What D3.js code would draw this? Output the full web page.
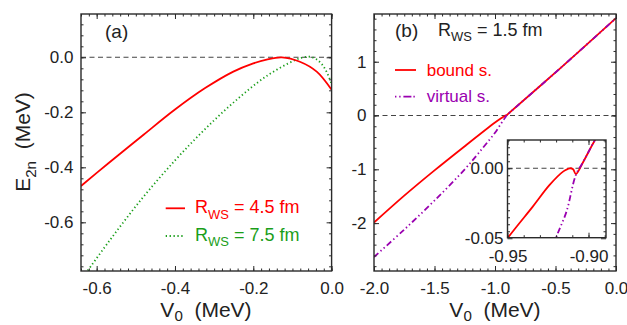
<!DOCTYPE html>
<html lang="en">
<head>
    <meta charset="UTF-8">
    <title>E2n vs V0</title>
    <script src="https://d3js.org/d3.v7.min.js"></script>
    <style>
        body { margin: 0; background: #fff; }
        text { font-family: "Liberation Sans", Arial, sans-serif; fill: #222; white-space: pre; }
        .frame { fill: none; stroke: #2a2a2a; stroke-width: 1.4px; }
        .tick line { stroke: #2a2a2a; stroke-width: 1px; }
        .zero-line { stroke: #444; stroke-width: 1.1px; stroke-dasharray: 5, 3.5; }
    </style>
</head>
<body>
    <div id="chart"></div>

    <script>
        // panel (a): R_WS = 4.5 fm and 7.5 fm
        const aV0Red = [-0.64, -0.57, -0.485, -0.40, -0.323, -0.251, -0.20, -0.166, -0.127, -0.081, -0.038, 0];
        const aE45 = [-0.468, -0.385, -0.287, -0.19, -0.112, -0.052, -0.022, -0.008, 0, -0.016, -0.052, -0.118];
        const aV0Green = [-0.64, -0.57, -0.485, -0.40, -0.328, -0.251, -0.166, -0.093, -0.072, -0.055, -0.04, -0.025, -0.012, 0];
        const aE75 = [-0.81, -0.672, -0.515, -0.375, -0.268, -0.165, -0.068, -0.01, 0, 0.002, -0.006, -0.025, -0.055, -0.097];

        // panel (b): R_WS = 1.5 fm, bound and virtual states
        const bV0Bound = [-2, -1.75, -1.5, -1.25, -1.0, -0.95, -0.9344, -0.924, -0.9157, -0.9115, -0.9095, -0.9078, -0.9032, -0.896, -0.45, 0];
        const bBound = [-1.99, -1.49, -1.02, -0.57, -0.13, -0.05, -0.0274, -0.0119, -0.0024, 0, -0.0007, -0.0041, 0.0047, 0.0202, 0.9, 1.81];
        const bV0Virt = [-2, -1.75, -1.5, -1.25, -1.1, -1.0, -0.95, -0.93, -0.9198, -0.9136, -0.9078, -0.9032, -0.896, -0.45, 0];
        const bVirtual = [-2.63, -2.12, -1.58, -1.0, -0.6, -0.32, -0.15, -0.085, -0.049, -0.031, -0.0048, 0.0047, 0.0202, 0.9, 1.81];

        // tick labels
        const aXTicks = [-0.6, -0.4, -0.2, 0.0];
        const aYTicks = [0.0, -0.2, -0.4, -0.6];
        const bXTicks = [-2.0, -1.5, -1.0, -0.5, 0.0];
        const bYTicks = [1, 0, -1, -2];
        const inXTicks = [-0.95, -0.90];
        const inYTicks = [0.00, -0.05];

        const red = "#ff0000", green = "#1a9e1a", purple = "#9a00b0";
        const font = 17;
        const dotDash = "1.3,2.6";
        const virtDash = "6,2.8,1.4,2.8,1.4,2.8";

        const svg = d3.select("#chart")
          .append("svg")
            .attr("width", 627)
            .attr("height", 325);

        let clipN = 0;

        // box with inward ticks on all four sides
        function frame(g, x, y, o) {
            const [x0, x1] = x.range();
            const [y0, y1] = y.range();
            const sides = [
                [d3.axisBottom, `translate(0,${y0})`, x, o.xMajor, o.xMinor, o.xFmt, o.xPad],
                [d3.axisTop, `translate(0,${y1})`, x, o.xMajor, o.xMinor, null, 0],
                [d3.axisLeft, `translate(${x0},0)`, y, o.yMajor, o.yMinor, o.yFmt, o.yPad],
                [d3.axisRight, `translate(${x1},0)`, y, o.yMajor, o.yMinor, null, 0]
            ];
            sides.forEach(([ax, tr, sc, major, minor, fmt, pad]) => {
                const gm = g.append("g").attr("transform", tr)
                    .call(ax(sc).tickValues(minor).tickSize(-2.5).tickFormat(""));
                gm.select(".domain").remove();
                const gM = g.append("g").attr("transform", tr)
                    .call(ax(sc).tickValues(major).tickSize(-5).tickPadding(pad)
                        .tickFormat(fmt || (() => "")));
                gM.select(".domain").remove();
                gM.selectAll("text")
                    .style("font-size", font + "px")
                    .style("font-family", "'Liberation Sans', Arial, sans-serif")
                    .attr("fill", "#222");
            });
            g.append("rect").attr("class", "frame")
                .attr("x", x0).attr("y", y1)
                .attr("width", x1 - x0).attr("height", y0 - y1);
        }

        function curve(g, x, y, xs, ys, color, dash, width) {
            const line = d3.line()
                .x(d => x(d[0]))
                .y(d => y(d[1]))
                .curve(d3.curveCatmullRom.alpha(0.5));
            g.append("path")
                .attr("d", line(d3.zip(xs, ys)))
                .attr("fill", "none")
                .attr("stroke", color)
                .attr("stroke-width", width || 1.8)
                .attr("stroke-dasharray", dash || null);
        }

        function clipped(x, y) {
            const id = "clip" + (clipN++);
            svg.append("clipPath").attr("id", id)
              .append("rect")
                .attr("x", x.range()[0]).attr("y", y.range()[1])
                .attr("width", x.range()[1] - x.range()[0])
                .attr("height", y.range()[0] - y.range()[1]);
            return svg.append("g").attr("clip-path", `url(#${id})`);
        }

        function zeroLine(g, x, y) {
            g.append("line").attr("class", "zero-line")
                .attr("x1", x.range()[0]).attr("x2", x.range()[1])
                .attr("y1", y(0)).attr("y2", y(0));
        }

        // text with a subscript: main, sub, rest
        function subText(g, px, py, main, sub, rest, size, color, anchor, drop) {
            const d = size * (drop || 0.3);
            const t = g.append("text")
                .attr("x", px).attr("y", py)
                .attr("text-anchor", anchor || "start")
                .style("font-size", size + "px")
                .style("fill", color || "#222");
            t.append("tspan").text(main);
            t.append("tspan").text(sub)
                .style("font-size", (size * 0.72) + "px")
                .attr("dy", d);
            t.append("tspan").text(rest)
                .attr("dy", -d);
            return t;
        }

        // ---------- panel (a)
        const xA = d3.scaleLinear().domain([-0.64, 0]).range([81, 331.6]);
        const yA = d3.scaleLinear().domain([-0.777, 0.1575]).range([271, 14]);

        const gA = clipped(xA, yA);
        zeroLine(gA, xA, yA);
        curve(gA, xA, yA, aV0Green, aE75, green, dotDash, 1.8);
        curve(gA, xA, yA, aV0Red, aE45, red);

        frame(svg.append("g"), xA, yA, {
            xMajor: aXTicks, xMinor: d3.range(-0.64, 0.001, 0.02),
            yMajor: aYTicks, yMinor: d3.range(-0.76, 0.16, 0.04),
            xFmt: d => d.toFixed(1), yFmt: d => d.toFixed(1),
            xPad: 11, yPad: 7.5
        });

        svg.append("text").attr("x", 105).attr("y", 38)
            .style("font-size", "19px").text("(a)");

        // legend (a)
        svg.append("line").attr("x1", 165.7).attr("x2", 185).attr("y1", 208.3).attr("y2", 208.3)
            .attr("stroke", red).attr("stroke-width", 1.8);
        subText(svg, 195, 213.3, "R", "WS", " = 4.5 fm", 18, red);
        svg.append("line").attr("x1", 165.7).attr("x2", 185).attr("y1", 236).attr("y2", 236)
            .attr("stroke", green).attr("stroke-width", 1.8)
            .attr("stroke-dasharray", dotDash);
        subText(svg, 195, 240.5, "R", "WS", " = 7.5 fm", 18, green);

        // axis titles (a)
        subText(svg, 206, 317, "V", "0", "  (MeV)", 21, "#222", "middle", 0.2);
        subText(svg, 0, 0, "E", "2n", "  (MeV)", 21, "#222", "middle")
            .attr("transform", "translate(30,142) rotate(-90)");

        // ---------- panel (b)
        const xB = d3.scaleLinear().domain([-2, 0]).range([374, 616]);
        const yB = d3.scaleLinear().domain([-2.89, 1.887]).range([271, 14]);

        const gB = clipped(xB, yB);
        zeroLine(gB, xB, yB);
        curve(gB, xB, yB, bV0Bound, bBound, red);
        curve(gB, xB, yB, bV0Virt, bVirtual, purple, virtDash, 1.8);

        frame(svg.append("g"), xB, yB, {
            xMajor: bXTicks, xMinor: d3.range(-2, 0.001, 0.0625),
            yMajor: bYTicks, yMinor: d3.range(-2.8, 1.85, 0.2),
            xFmt: d => d.toFixed(1), yFmt: d => String(d),
            xPad: 11, yPad: 7.5
        });

        svg.append("text").attr("x", 395).attr("y", 37)
            .style("font-size", "19px").text("(b)");
        subText(svg, 438, 36, "R", "WS", " = 1.5 fm", 18, "#222");

        // legend (b)
        svg.append("line").attr("x1", 395).attr("x2", 416).attr("y1", 70).attr("y2", 70)
            .attr("stroke", red).attr("stroke-width", 1.8);
        svg.append("text").attr("x", 426.7).attr("y", 75.5)
            .style("font-size", font + "px").style("fill", red).text("bound s.");
        svg.append("line").attr("x1", 395).attr("x2", 416).attr("y1", 96.7).attr("y2", 96.7)
            .attr("stroke", purple).attr("stroke-width", 1.8)
            .attr("stroke-dasharray", "1.4,2.8,1.4,2.8,8,2");
        svg.append("text").attr("x", 426.7).attr("y", 101.5)
            .style("font-size", font + "px").style("fill", purple).text("virtual s.");

        subText(svg, 495, 317, "V", "0", "  (MeV)", 21, "#222", "middle", 0.2);

        // ---------- inset
        const xI = d3.scaleLinear().domain([-0.95, -0.8892]).range([507.5, 606]);
        const yI = d3.scaleLinear().domain([-0.0496, 0.0202]).range([237.7, 140]);

        svg.append("rect")
            .attr("x", 507.5).attr("y", 140)
            .attr("width", xI.range()[1] - xI.range()[0])
            .attr("height", yI.range()[0] - yI.range()[1])
            .attr("fill", "#fff");

        const gI = clipped(xI, yI);
        zeroLine(gI, xI, yI);
        curve(gI, xI, yI, bV0Bound, bBound, red);
        curve(gI, xI, yI, bV0Virt, bVirtual, purple, virtDash, 1.8);

        frame(svg.append("g"), xI, yI, {
            xMajor: inXTicks, xMinor: d3.range(-0.95, -0.889, 0.01),
            yMajor: inYTicks, yMinor: d3.range(-0.045, 0.0201, 0.005),
            xFmt: d => d.toFixed(2), yFmt: d => d.toFixed(2),
            xPad: 12, yPad: 4
        });
    </script>
</body>
</html>
